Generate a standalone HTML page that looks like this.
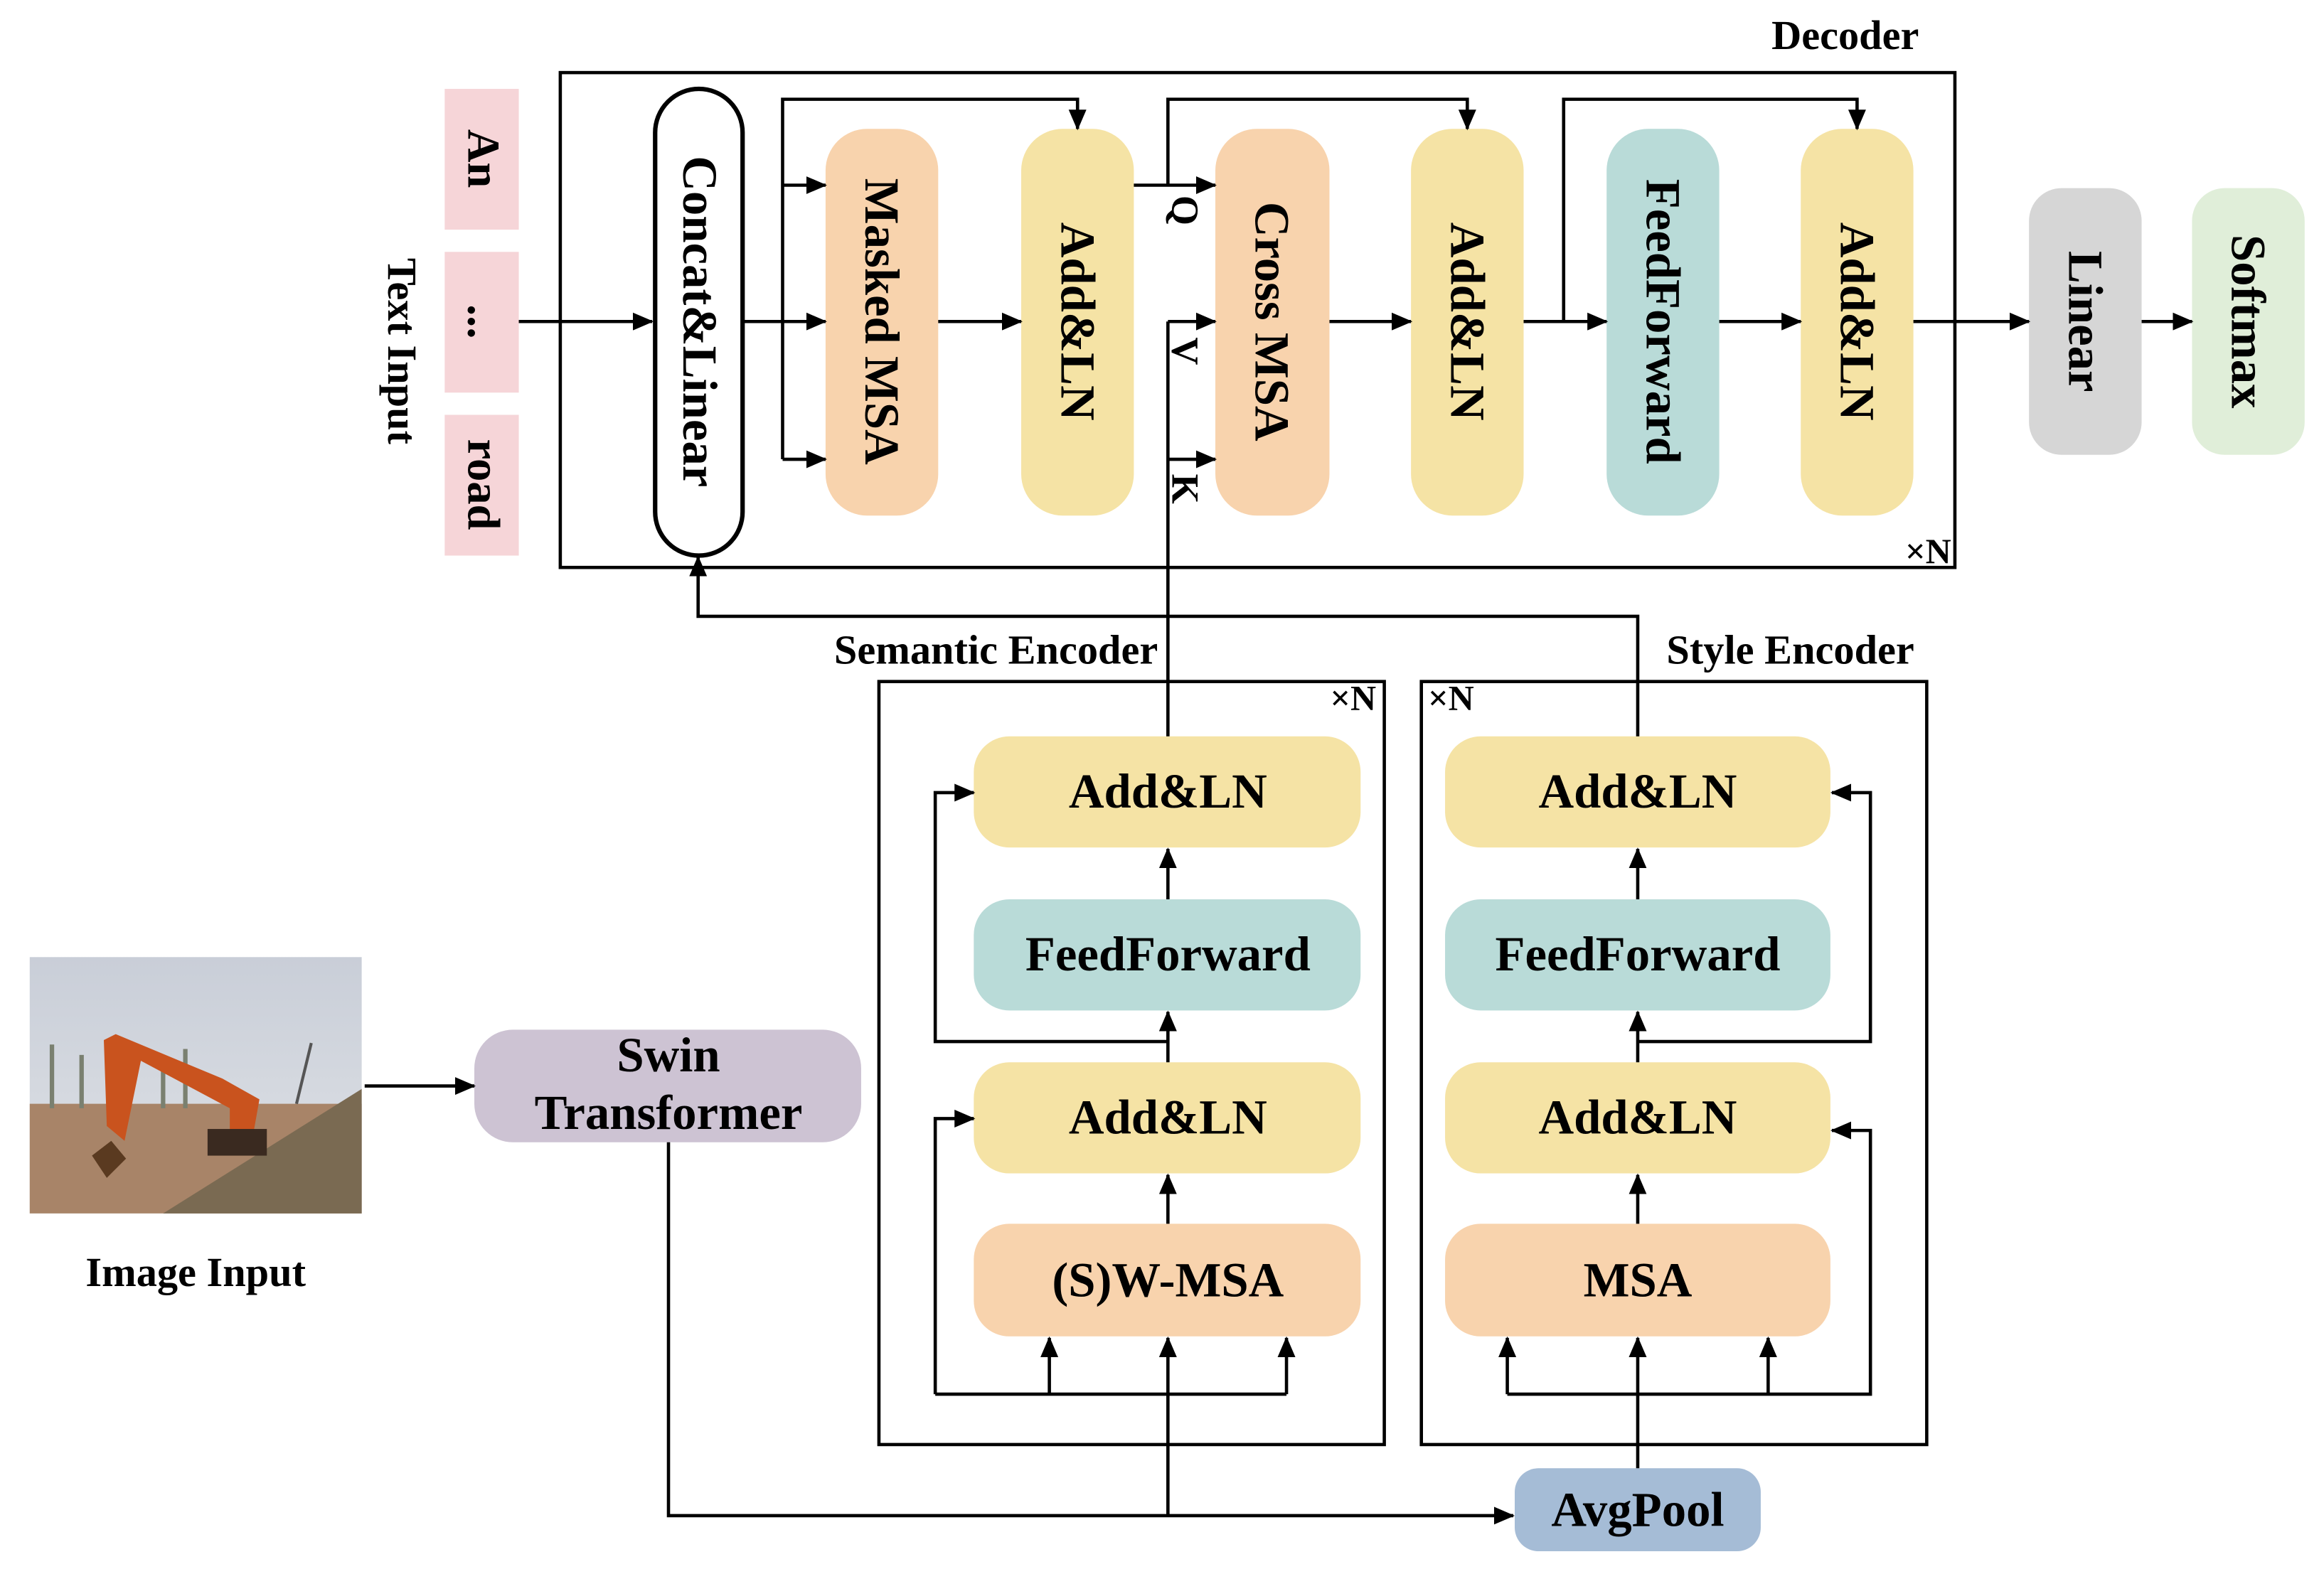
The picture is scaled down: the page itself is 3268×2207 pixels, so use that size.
<!DOCTYPE html>
<html><head><meta charset="utf-8"><style>html,body{margin:0;padding:0;background:#fff}svg{display:block}</style></head><body>
<svg width="3268" height="2207" viewBox="0 0 1568 1059" xmlns="http://www.w3.org/2000/svg" font-family="Liberation Serif, serif" font-weight="bold">
<defs>
<marker id="a" markerWidth="14" markerHeight="12" refX="13" refY="6" orient="auto" markerUnits="userSpaceOnUse"><path d="M0,0 L14,6 L0,12 z" fill="#000"/></marker>
<linearGradient id="sky" x1="0" y1="0" x2="0" y2="1"><stop offset="0" stop-color="#c9ced8"/><stop offset="1" stop-color="#dfe2e6"/></linearGradient>
</defs>
<rect width="1568" height="1059" fill="#fff"/>
<g stroke="#000" stroke-width="2.2" fill="none">
<rect x="378" y="49" width="941" height="334"/>
<rect x="593" y="460" width="341" height="515"/>
<rect x="959" y="460" width="341" height="515"/>
</g>
<text x="1245" y="33" font-size="28" text-anchor="middle">Decoder</text>
<text x="1301" y="380" font-size="24" text-anchor="middle">×N</text>
<text x="672" y="448" font-size="28" text-anchor="middle">Semantic Encoder</text>
<text x="1208" y="448" font-size="28" text-anchor="middle">Style Encoder</text>
<text x="913" y="479" font-size="24" text-anchor="middle">×N</text>
<text x="979" y="479" font-size="24" text-anchor="middle">×N</text>
<g fill="#f6d5d8"><rect x="300" y="60" width="50" height="95"/><rect x="300" y="170" width="50" height="95"/><rect x="300" y="280" width="50" height="95"/></g>
<g font-size="31">
<text transform="translate(316,107) rotate(90)" text-anchor="middle">An</text>
<text transform="translate(316,217) rotate(90)" text-anchor="middle">...</text>
<text transform="translate(316,327) rotate(90)" text-anchor="middle">road</text>
</g>
<text transform="translate(262,237) rotate(90)" text-anchor="middle" font-size="28">Text Input</text>
<rect x="442" y="60" width="59" height="315" rx="29.5" fill="#fff" stroke="#000" stroke-width="3"/>
<rect x="557" y="87" width="76" height="261" rx="28" fill="#f8d3ad"/>
<rect x="689" y="87" width="76" height="261" rx="28" fill="#f5e3a5"/>
<rect x="820" y="87" width="77" height="261" rx="28" fill="#f8d3ad"/>
<rect x="952" y="87" width="76" height="261" rx="28" fill="#f5e3a5"/>
<rect x="1084" y="87" width="76" height="261" rx="28" fill="#b9dbd8"/>
<rect x="1215" y="87" width="76" height="261" rx="28" fill="#f5e3a5"/>
<rect x="1369" y="127" width="76" height="180" rx="22" fill="#d6d6d6"/>
<rect x="1479" y="127" width="76" height="180" rx="22" fill="#e0eed9"/>
<g font-size="33">
<text transform="translate(461,217) rotate(90)" text-anchor="middle">Concat&amp;Linear</text>
<text transform="translate(584,217) rotate(90)" text-anchor="middle">Masked MSA</text>
<text transform="translate(716,217) rotate(90)" text-anchor="middle">Add&amp;LN</text>
<text transform="translate(847,217) rotate(90)" text-anchor="middle">Cross MSA</text>
<text transform="translate(979,217) rotate(90)" text-anchor="middle">Add&amp;LN</text>
<text transform="translate(1111,217) rotate(90)" text-anchor="middle">FeedForward</text>
<text transform="translate(1242,217) rotate(90)" text-anchor="middle">Add&amp;LN</text>
<text transform="translate(1396,217) rotate(90)" text-anchor="middle">Linear</text>
<text transform="translate(1506,217) rotate(90)" text-anchor="middle">Softmax</text>
</g>
<g font-size="26">
<text transform="translate(791,142) rotate(90)" text-anchor="middle">Q</text>
<text transform="translate(791,237) rotate(90)" text-anchor="middle">V</text>
<text transform="translate(791,330) rotate(90)" text-anchor="middle">K</text>
</g>
<g fill="#f5e3a5"><rect x="657" y="497" width="261" height="75" rx="24"/><rect x="657" y="717" width="261" height="75" rx="24"/><rect x="975" y="497" width="260" height="75" rx="24"/><rect x="975" y="717" width="260" height="75" rx="24"/></g>
<g fill="#b9dbd8"><rect x="657" y="607" width="261" height="75" rx="24"/><rect x="975" y="607" width="260" height="75" rx="24"/></g>
<g fill="#f8d3ad"><rect x="657" y="826" width="261" height="76" rx="24"/><rect x="975" y="826" width="260" height="76" rx="24"/></g>
<rect x="320" y="695" width="261" height="76" rx="26" fill="#cdc3d3"/>
<rect x="1022" y="991" width="166" height="56" rx="16" fill="#a5bcd6"/>
<g font-size="33" text-anchor="middle">
<text x="788" y="545">Add&amp;LN</text><text x="788" y="655">FeedForward</text><text x="788" y="765">Add&amp;LN</text><text x="788" y="875">(S)W-MSA</text>
<text x="1105" y="545">Add&amp;LN</text><text x="1105" y="655">FeedForward</text><text x="1105" y="765">Add&amp;LN</text><text x="1105" y="875">MSA</text>
<text x="451" y="723">Swin</text><text x="451" y="762">Transformer</text>
<text x="1105" y="1030">AvgPool</text>
</g>
<text x="132" y="868" font-size="28" text-anchor="middle">Image Input</text>
<rect x="20" y="646" width="224" height="173" fill="url(#sky)"/>
<rect x="20" y="745" width="224" height="74" fill="#a88468"/>
<path d="M110,819 L244,735 L244,819 z" fill="#7a6a52"/>
<g stroke="#7a8070" stroke-width="3"><line x1="35" y1="705" x2="35" y2="748"/><line x1="55" y1="712" x2="55" y2="748"/><line x1="125" y1="708" x2="125" y2="748"/><line x1="110" y1="712" x2="110" y2="748"/></g>
<path d="M72,760 L70,702 L78,698 L150,728 L175,742 L170,770 L155,770 L155,748 L95,716 L84,770z" fill="#c9531e"/>
<path d="M62,780 L75,770 L85,782 L72,795z" fill="#5a3a20"/>
<rect x="140" y="762" width="40" height="18" fill="#3a2a20"/>
<line x1="200" y1="745" x2="210" y2="704" stroke="#555" stroke-width="2"/>
<g stroke="#000" stroke-width="2.2" fill="none">
<line x1="350" y1="217" x2="440" y2="217" marker-end="url(#a)"/>
<line x1="501" y1="217" x2="557" y2="217" marker-end="url(#a)"/>
<polyline points="528,310 528,67 727,67 727,87" marker-end="url(#a)"/>
<line x1="528" y1="125" x2="557" y2="125" marker-end="url(#a)"/>
<line x1="528" y1="310" x2="557" y2="310" marker-end="url(#a)"/>
<line x1="633" y1="217" x2="689" y2="217" marker-end="url(#a)"/>
<line x1="765" y1="125" x2="820" y2="125" marker-end="url(#a)"/>
<polyline points="788,125 788,67 990,67 990,87" marker-end="url(#a)"/>
<line x1="788" y1="217" x2="820" y2="217" marker-end="url(#a)"/>
<line x1="788" y1="310" x2="820" y2="310" marker-end="url(#a)"/>
<line x1="788" y1="217" x2="788" y2="497"/>
<line x1="897" y1="217" x2="952" y2="217" marker-end="url(#a)"/>
<line x1="1028" y1="217" x2="1084" y2="217" marker-end="url(#a)"/>
<polyline points="1055,217 1055,67 1253,67 1253,87" marker-end="url(#a)"/>
<line x1="1160" y1="217" x2="1215" y2="217" marker-end="url(#a)"/>
<line x1="1291" y1="217" x2="1369" y2="217" marker-end="url(#a)"/>
<line x1="1445" y1="217" x2="1479" y2="217" marker-end="url(#a)"/>
<polyline points="1105,497 1105,416 471,416 471,376" marker-end="url(#a)"/>
<line x1="788" y1="607" x2="788" y2="573" marker-end="url(#a)"/>
<line x1="788" y1="717" x2="788" y2="683" marker-end="url(#a)"/>
<line x1="788" y1="826" x2="788" y2="793" marker-end="url(#a)"/>
<polyline points="788,703 631,703 631,535 657,535" marker-end="url(#a)"/>
<polyline points="631,941 631,755 657,755" marker-end="url(#a)"/>
<line x1="631" y1="941" x2="868" y2="941"/>
<line x1="708" y1="941" x2="708" y2="903" marker-end="url(#a)"/>
<line x1="868" y1="941" x2="868" y2="903" marker-end="url(#a)"/>
<line x1="788" y1="1023" x2="788" y2="903" marker-end="url(#a)"/>
<line x1="1105" y1="607" x2="1105" y2="573" marker-end="url(#a)"/>
<line x1="1105" y1="717" x2="1105" y2="683" marker-end="url(#a)"/>
<line x1="1105" y1="826" x2="1105" y2="793" marker-end="url(#a)"/>
<polyline points="1105,703 1262,703 1262,535 1236,535" marker-end="url(#a)"/>
<polyline points="1017,941 1262,941 1262,763 1236,763" marker-end="url(#a)"/>
<line x1="1017" y1="941" x2="1017" y2="903" marker-end="url(#a)"/>
<line x1="1193" y1="941" x2="1193" y2="903" marker-end="url(#a)"/>
<line x1="1105" y1="991" x2="1105" y2="903" marker-end="url(#a)"/>
<line x1="246" y1="733" x2="320" y2="733" marker-end="url(#a)"/>
<polyline points="451,771 451,1023 1021,1023" marker-end="url(#a)"/>
</g>
</svg>
</body></html>
